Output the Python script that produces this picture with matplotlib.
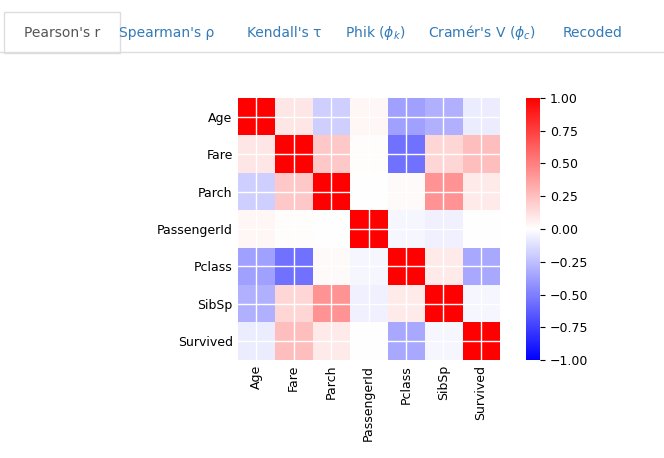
import numpy as np
import matplotlib.pyplot as plt
from matplotlib.patches import Rectangle

labels = ['Age', 'Fare', 'Parch', 'PassengerId', 'Pclass', 'SibSp', 'Survived']
# upper triangle of the Pearson correlation matrix
pairs = {
    ('Age', 'Fare'): 0.096, ('Age', 'Parch'): -0.189, ('Age', 'PassengerId'): 0.037,
    ('Age', 'Pclass'): -0.369, ('Age', 'SibSp'): -0.308, ('Age', 'Survived'): -0.077,
    ('Fare', 'Parch'): 0.216, ('Fare', 'PassengerId'): 0.013, ('Fare', 'Pclass'): -0.549,
    ('Fare', 'SibSp'): 0.160, ('Fare', 'Survived'): 0.257,
    ('Parch', 'PassengerId'): -0.002, ('Parch', 'Pclass'): 0.018, ('Parch', 'SibSp'): 0.415,
    ('Parch', 'Survived'): 0.082,
    ('PassengerId', 'Pclass'): -0.035, ('PassengerId', 'SibSp'): -0.058,
    ('PassengerId', 'Survived'): -0.005,
    ('Pclass', 'SibSp'): 0.083, ('Pclass', 'Survived'): -0.338,
    ('SibSp', 'Survived'): -0.035,
}
tabs = ["Pearson's r", "Spearman's ρ", "Kendall's τ", "Phik ($\\phi_k$)",
        "Cramér's V ($\\phi_c$)", "Recoded"]
tab_x = [62, 167, 284, 375, 482, 593]

n = len(labels)
corr = np.eye(n)
for (a, b), v in pairs.items():
    i, j = labels.index(a), labels.index(b)
    corr[i, j] = corr[j, i] = v

W, H = 664, 458
fig = plt.figure(figsize=(W / 100, H / 100), dpi=100)

def px(x0, y0, x1, y1):
    return [x0 / W, 1 - y1 / H, (x1 - x0) / W, (y1 - y0) / H]

# tab bar
fig.add_artist(plt.Line2D([0, 1], [1 - 52 / H] * 2, color='#dddddd', lw=1))
fig.add_artist(Rectangle((4 / W, 1 - 53 / H), 116 / W, 41 / H, facecolor='white',
                         edgecolor='#dddddd', lw=1))
for k, (t, x) in enumerate(zip(tabs, tab_x)):
    fig.text(x / W, 1 - 33 / H, t, ha='center', va='center', fontsize=10,
             color='#555555' if k == 0 else '#337ab7')

ax = fig.add_axes(px(232, 98, 505, 360))
im = ax.imshow(corr, cmap='bwr', vmin=-1, vmax=1, interpolation='nearest')
ax.set_xticks(range(n))
ax.set_yticks(range(n))
ax.set_xticklabels(labels, rotation=90, fontsize=9)
ax.set_yticklabels(labels, fontsize=9)
ax.grid(True, color='white', lw=1)
for s in ax.spines.values():
    s.set_visible(False)
ax.tick_params(length=0)

cax = fig.add_axes(px(526, 98, 540, 360))
cb = fig.colorbar(im, cax=cax, ticks=np.arange(-1, 1.01, 0.25))
cb.ax.tick_params(labelsize=9)
cb.outline.set_visible(False)

fig.savefig('out.png', dpi=100)
